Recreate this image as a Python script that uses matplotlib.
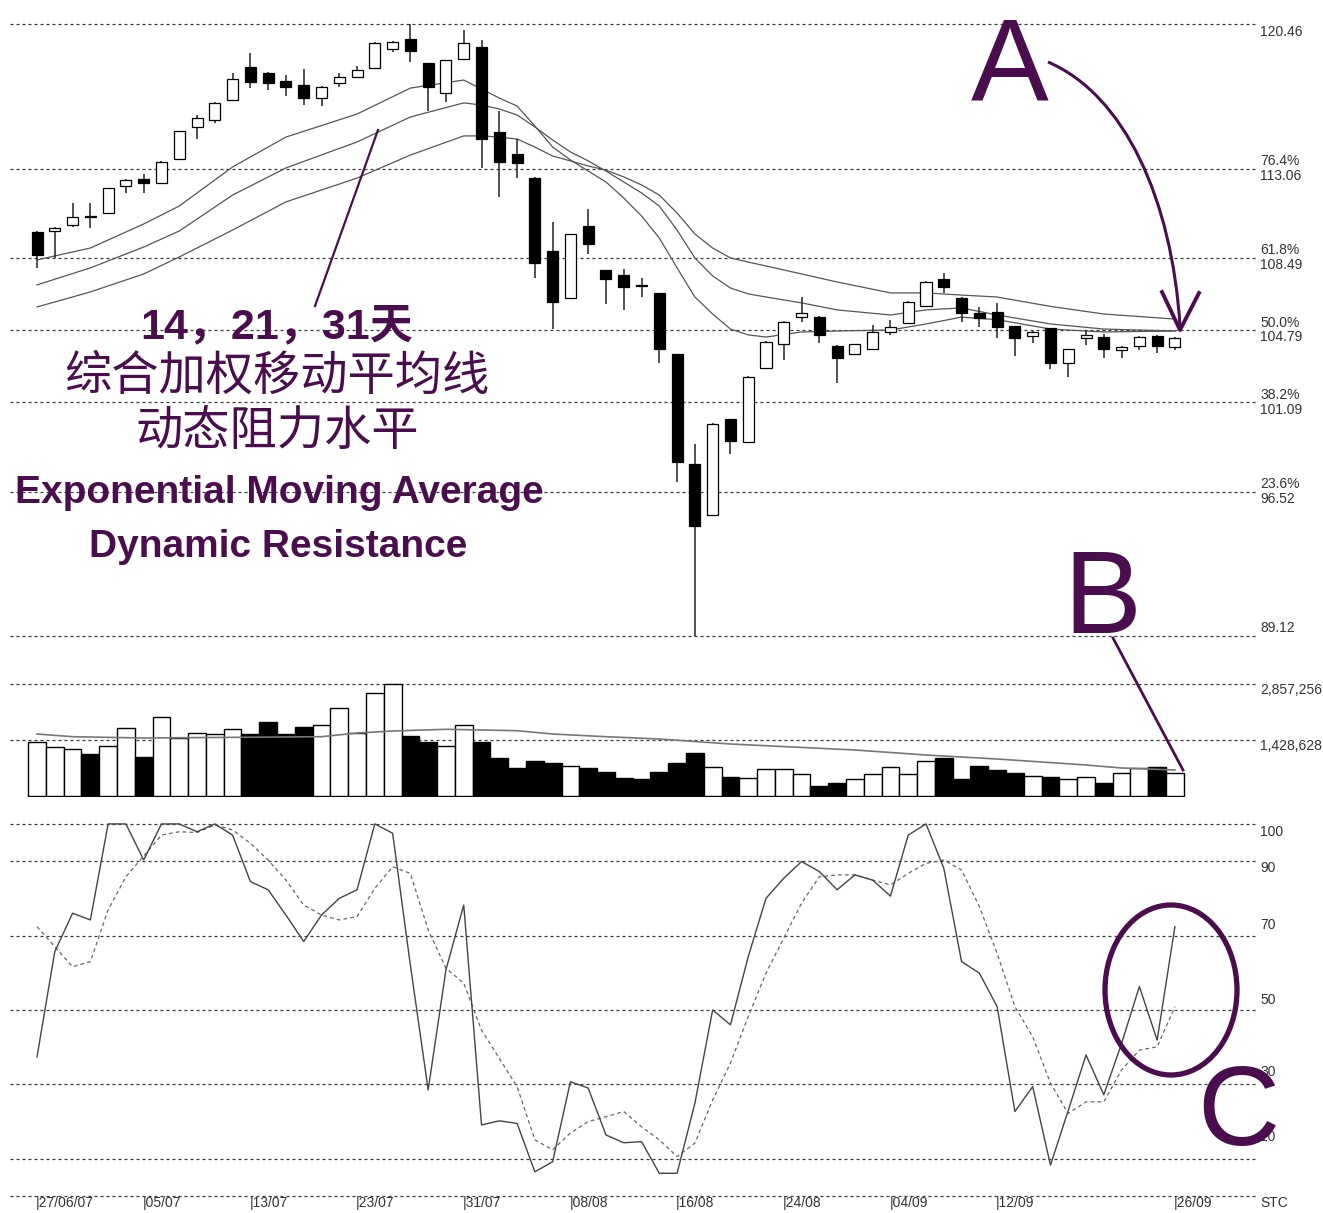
"""Candlestick chart with EMAs, volume and stochastic, Fibonacci levels and annotations."""

import matplotlib as mpl
import matplotlib.pyplot as plt
from matplotlib.patches import Ellipse, PathPatch
from matplotlib.path import Path

mpl.rcParams["font.family"] = ["Liberation Sans", "Noto Sans CJK SC", "DejaVu Sans"]

# price candles (one per trading day)
opens = [109.83, 109.86, 110.17, 110.63, 110.78, 112.18, 112.52, 112.30, 113.55, 115.20,
         115.54, 116.57, 118.26, 117.95, 117.54, 117.34, 116.67, 117.45, 117.75, 118.19,
         119.16, 119.69, 118.45, 116.94, 118.69, 119.28, 114.93, 113.80, 112.60, 108.84,
         106.44, 110.12, 107.86, 107.61, 107.07, 106.69, 103.54, 97.91, 95.32, 100.21,
         99.03, 102.83, 104.06, 105.47, 105.47, 103.99, 103.55, 103.80, 104.71, 105.17,
         106.02, 107.39, 106.45, 105.68, 105.73, 105.00, 104.49, 104.88, 103.09, 104.37,
         104.42, 103.77, 103.97, 104.49, 103.94]
highs = [109.85, 110.05, 111.30, 111.30, 112.06, 112.50, 112.78, 113.43, 115.00, 115.80,
         116.45, 117.95, 118.98, 118.00, 117.85, 118.16, 117.27, 117.95, 118.32, 119.52,
         119.58, 120.46, 118.47, 118.64, 120.15, 119.64, 116.01, 114.57, 112.62, 110.32,
         109.73, 111.01, 107.88, 107.92, 107.45, 106.71, 103.56, 98.97, 100.02, 100.23,
         102.41, 104.21, 105.24, 106.50, 105.50, 104.01, 104.08, 105.05, 105.30, 106.26,
         107.29, 107.73, 106.47, 105.99, 106.19, 105.02, 104.73, 104.90, 103.82, 104.79,
         104.59, 103.96, 104.47, 104.51, 104.42]
lows = [107.97, 108.48, 110.07, 110.02, 110.78, 111.82, 111.81, 112.28, 113.53, 114.57,
        115.39, 116.55, 117.18, 117.08, 116.77, 116.31, 116.26, 117.25, 117.70, 118.17,
        119.04, 118.53, 116.02, 116.48, 118.67, 113.09, 111.62, 112.58, 107.46, 104.86,
        106.42, 108.68, 106.14, 105.83, 106.48, 103.10, 97.01, 89.12, 95.30, 98.42,
        99.01, 102.81, 103.26, 105.22, 104.13, 102.09, 103.53, 103.78, 104.54, 105.15,
        106.00, 106.67, 105.22, 104.96, 104.37, 103.46, 104.11, 102.78, 102.40, 104.02,
        103.34, 103.34, 103.77, 103.60, 103.77]
closes = [108.61, 110.02, 110.59, 110.60, 112.06, 112.47, 112.32, 113.41, 114.98, 115.66,
          116.42, 117.64, 117.51, 117.45, 117.25, 116.67, 117.25, 117.76, 118.10, 119.50,
          119.55, 119.09, 117.25, 118.62, 119.49, 114.57, 113.39, 113.34, 108.22, 106.24,
          109.71, 109.20, 107.42, 107.01, 107.03, 103.82, 98.01, 94.76, 100.00, 99.13,
          102.39, 104.19, 105.22, 105.65, 104.54, 103.34, 104.06, 104.71, 104.93, 106.24,
          107.27, 106.98, 105.65, 105.42, 104.96, 104.37, 104.71, 103.09, 103.80, 104.54,
          103.80, 103.94, 104.45, 103.97, 104.40]

# 14, 21 and 31 day EMAs, read at these candle positions
ema_idx = [0, 3, 6, 8, 11, 14, 18, 21,
           24, 25, 26, 27, 28, 29, 30, 31, 32, 33, 34, 35, 36, 37, 38, 39, 40, 41,
           43, 45, 48, 50, 52, 54, 57, 60, 64]
ema14 = [108.38, 108.99, 110.22, 111.14, 113.14, 114.67, 115.85, 117.18,
         117.59, 117.13, 116.67, 116.26, 115.24, 114.16, 113.50, 112.93, 112.37, 111.55,
         110.63, 109.50, 107.97, 106.48, 105.61, 104.84, 104.54, 104.43,
         104.69, 104.74, 104.79, 105.10, 105.45, 105.32, 104.84, 104.69, 104.74]
ema21 = [107.10, 107.97, 109.04, 109.86, 111.70, 113.09, 114.42, 115.70,
         116.42, 116.31, 116.11, 115.80, 115.19, 114.52, 113.91, 113.45, 112.93, 112.37,
         111.81, 111.14, 109.91, 108.48, 107.56, 106.94, 106.64, 106.48,
         106.18, 105.82, 105.56, 105.82, 105.92, 105.56, 105.10, 104.84, 104.74]
ema31 = [105.97, 106.74, 107.66, 108.53, 109.91, 111.35, 112.57, 113.75,
         114.73, 114.73, 114.67, 114.57, 114.16, 113.70, 113.45, 113.19, 112.98, 112.63,
         112.22, 111.70, 110.78, 109.71, 108.99, 108.48, 108.27, 108.07,
         107.66, 107.25, 106.69, 106.69, 106.58, 106.48, 106.00, 105.61, 105.35]

# volume
volumes = [1378700, 1235200, 1183900, 1063500, 1268500, 1722100, 994300, 2004000, 1465800, 1609300,
           1576000, 1696400, 1568300, 1891200, 1568300, 1763100, 1806600, 2250000, 1609300, 2634400,
           2857256, 1532400, 1378700, 1268500, 1806600, 1378700, 968700, 712400, 884100, 840500,
           756000, 712400, 609900, 456100, 415100, 609900, 840500, 1081400, 738000, 466400,
           456100, 671400, 671400, 543300, 243400, 328000, 415100, 543300, 738000, 543300,
           891800, 953300, 415100, 763700, 653500, 568900, 499700, 466400, 415100, 466400,
           328000, 584300, 697000, 738000, 584300]
vol_up = [1, 1, 1, 0, 1, 1, 0, 1, 1, 1, 1, 1, 0, 0, 0, 0, 1, 1, 1, 1,
          1, 0, 0, 1, 1, 0, 0, 0, 0, 0, 1, 0, 0, 0, 0, 0, 0, 0, 1, 0,
          1, 1, 1, 1, 0, 0, 1, 1, 1, 1, 1, 0, 0, 0, 0, 0, 1, 0, 1, 1,
          0, 1, 1, 0, 1]
vma_idx = [0, 2, 6, 16, 18, 20, 23, 27, 29, 32, 35, 39, 46, 50, 54, 59, 61, 64]
vma = [1576000, 1506800, 1473500, 1506800, 1601600, 1652900, 1696400, 1660600, 1576000,
       1506800, 1447900, 1319700, 1166000, 1037900, 935300, 781600, 704700, 653500]

# stochastic %K and %D
stoch_k = [37.4, 65.7, 76.0, 74.2, 100, 100, 90.3, 100, 100, 97.9,
           100, 97.0, 84.5, 82.3, 75.5, 68.4, 75.5, 80.0, 82.3, 100,
           97.5, 62.0, 28.5, 60.8, 78.2, 19.1, 20.2, 19.5, 6.5, 9.2,
           30.7, 29.0, 16.4, 14.3, 14.6, 6.1, 6.1, 24.9, 50.0, 46.0,
           64.3, 80.0, 85.4, 89.9, 87.2, 82.3, 86.3, 84.9, 80.6, 97.0,
           100, 88.1, 63.0, 59.9, 50.9, 22.7, 29.4, 8.3, 23.0, 37.9,
           27.2, 41.0, 56.3, 41.9, 72.4]
stoch_d = [72.4, 67.0, 61.6, 63.0, 76.9, 85.8, 91.4, 97.0, 97.9, 97.7,
           99.7, 98.4, 94.8, 90.3, 84.9, 78.2, 75.5, 74.2, 75.1, 82.7,
           88.5, 86.7, 71.5, 61.2, 57.2, 44.6, 37.0, 29.4, 15.1, 12.4,
           16.9, 20.0, 21.3, 22.7, 18.6, 15.1, 10.6, 14.2, 25.8, 35.7,
           48.2, 59.9, 69.3, 78.7, 85.8, 86.3, 86.3, 84.9, 83.6, 86.7,
           89.4, 90.3, 87.6, 77.8, 65.2, 50.9, 42.8, 30.3, 22.2, 25.3,
           25.3, 33.9, 39.2, 40.1, 50.9]

# levels and labels
price_levels = [120.46, 113.06, 108.49, 104.79, 101.09, 96.52, 89.12]
price_labels = ["120.46", "76.4%\n113.06", "61.8%\n108.49", "50.0%\n104.79",
                "38.2%\n101.09", "23.6%\n96.52", "89.12"]
vol_levels = [2857256, 1428628]
vol_labels = ["2,857,256", "1,428,628"]
stoch_levels = [100, 90, 70, 50, 30, 10]
date_idx = [0, 6, 12, 18, 24, 30, 36, 42, 48, 54, 64]
date_labels = ["|27/06/07", "|05/07", "|13/07", "|23/07", "|31/07", "|08/08",
               "|16/08", "|24/08", "|04/09", "|12/09", "|26/09"]

W, H = 1323, 1213
PURPLE = "#4a0e4e"
GRID = dict(color="#3a3a3a", lw=0.9, ls=(0, (2.4, 2.4)), zorder=0)
LBL = dict(fontsize=10, color="#333333", ha="left", va="center")


def box(left, top, right, bottom):
    return [left / W, 1 - bottom / H, (right - left) / W, (bottom - top) / H]


def rlabel(ax, y, text, dy):
    ax.annotate(text, xy=(1, y), xycoords=("axes fraction", "data"),
                xytext=(4, -dy), textcoords="offset pixels",
                annotation_clip=False, linespacing=1.05, **LBL)


def main():
    fig = plt.figure(figsize=(W / 100, H / 100), dpi=100)
    ax_p = fig.add_axes(box(10, 8, 1256, 645))
    ax_v = fig.add_axes(box(10, 665, 1256, 797))
    ax_s = fig.add_axes(box(10, 815, 1256, 1200))
    xs = list(range(len(opens)))

    for ax in (ax_p, ax_v, ax_s):
        ax.set_xlim(-1.52, 68.56)
        ax.axis("off")

    # price panel
    ax_p.set_ylim(88.66, 121.28)
    for lvl, lab, dy in zip(price_levels, price_labels, [8, 0, 0, 0, 0, 0, -8]):
        ax_p.axhline(lvl, **GRID)
        rlabel(ax_p, lvl, lab, dy)
    for vals in (ema14, ema21, ema31):
        ax_p.plot(ema_idx, vals, color="#555555", lw=0.9, zorder=1,
                  solid_joinstyle="round")
    up = [c >= o for o, c in zip(opens, closes)]
    ax_p.vlines(xs, lows, highs, color="#222222", lw=1.1, zorder=2)
    ax_p.bar(xs, [max(abs(c - o), 0.02) for o, c in zip(opens, closes)],
             bottom=[min(o, c) for o, c in zip(opens, closes)], width=0.62,
             color=["white" if u else "black" for u in up],
             edgecolor="black", lw=0.9, zorder=3)

    # volume panel
    ax_v.set_ylim(-38400, 3344200)
    for lvl, lab in zip(vol_levels, vol_labels):
        ax_v.axhline(lvl, **GRID)
        rlabel(ax_v, lvl, lab, 6)
    ax_v.bar(xs, volumes, width=1.0, color=["white" if u else "black" for u in vol_up],
             edgecolor="black", lw=1.0, zorder=2)
    ax_v.plot(vma_idx, vma, color="#777777", lw=1.2, zorder=3)

    # stochastic panel
    ax_s.set_ylim(-1.08, 102.4)
    for lvl, dy in zip(stoch_levels, [8, 7, -11, -10, -12, -22]):
        ax_s.axhline(lvl, **GRID)
        rlabel(ax_s, lvl, str(lvl), dy)
    ax_s.axhline(0, **GRID)
    rlabel(ax_s, 0, "STC", 7)
    for i, lab in zip(date_idx, date_labels):
        ax_s.annotate(lab, xy=(i, 0), xytext=(-1, -7), textcoords="offset pixels",
                      fontsize=10, color="#333333", ha="left", va="center",
                      annotation_clip=False)
    ax_s.plot(xs, stoch_d, color="#666666", lw=0.9, ls=(0, (3, 2.5)), zorder=2)
    ax_s.plot(xs, stoch_k, color="#444444", lw=1.0, zorder=3)

    # annotation layer in pixel coordinates
    ax_o = fig.add_axes([0, 0, 1, 1])
    ax_o.set_xlim(0, W)
    ax_o.set_ylim(H, 0)
    ax_o.axis("off")
    ax_o.patch.set_visible(False)

    ax_o.plot([315, 378], [306, 130], color=PURPLE, lw=1.6)
    ax_o.text(277, 338, "14，21，31天", fontsize=31, fontweight="bold",
              color=PURPLE, ha="center", va="baseline")
    ax_o.text(277, 390, "综合加权移动平均线", fontsize=34, color=PURPLE,
              family=["Noto Sans CJK SC"], ha="center", va="baseline")
    ax_o.text(277, 445, "动态阻力水平", fontsize=34, color=PURPLE,
              family=["Noto Sans CJK SC"], ha="center", va="baseline")
    ax_o.text(279, 503, "Exponential Moving Average", fontsize=28, fontweight="bold",
              color=PURPLE, ha="center", va="baseline")
    ax_o.text(278, 557, "Dynamic Resistance", fontsize=28, fontweight="bold",
              color=PURPLE, ha="center", va="baseline")

    ax_o.text(1010, 100, "A", fontsize=84, color=PURPLE, ha="center", va="baseline")
    ax_o.text(1102, 633, "B", fontsize=84, color=PURPLE, ha="center", va="baseline")
    ax_o.text(1238, 1145, "C", fontsize=82, color=PURPLE, ha="center", va="baseline")

    arc = Path([(1048, 62), (1125, 95), (1172, 200), (1180, 326)],
               [Path.MOVETO, Path.CURVE4, Path.CURVE4, Path.CURVE4])
    ax_o.add_patch(PathPatch(arc, fill=False, edgecolor=PURPLE, lw=2.2))
    ax_o.plot([1162, 1180, 1199], [292, 330, 293], color=PURPLE, lw=2.8)
    ax_o.plot([1113, 1183], [638, 770], color=PURPLE, lw=2.0)
    ax_o.add_patch(Ellipse((1171, 990), 132, 170, fill=False, edgecolor=PURPLE, lw=3.8))

    fig.savefig("out.png", dpi=100)
    plt.close(fig)


if __name__ == "__main__":
    main()
